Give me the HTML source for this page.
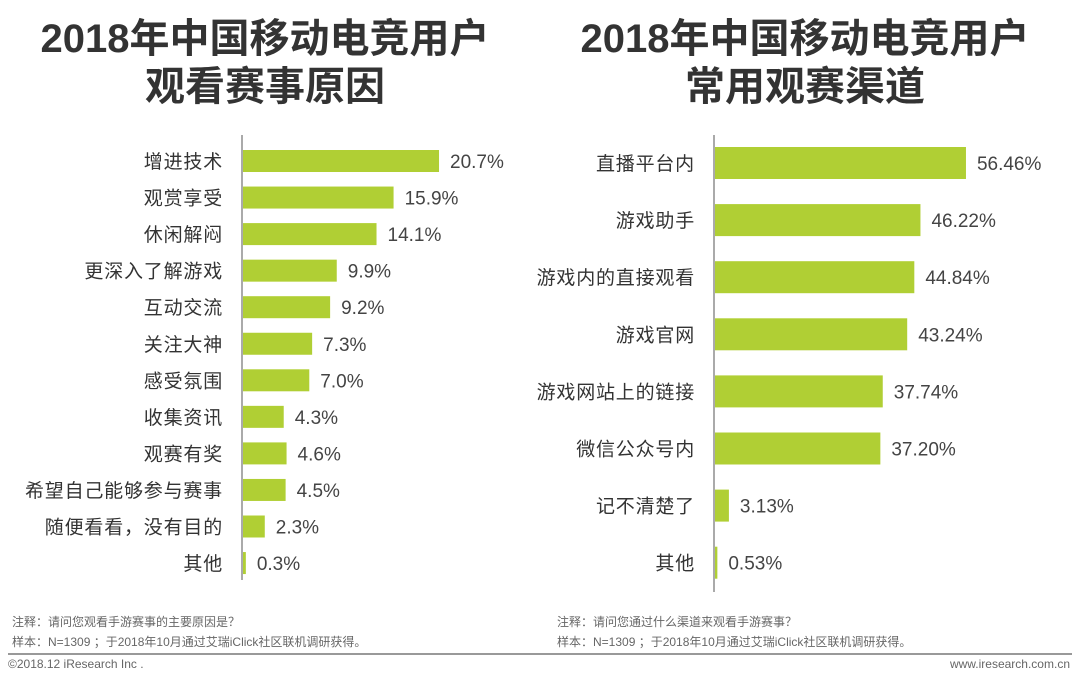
<!DOCTYPE html>
<html><head><meta charset="utf-8"><style>
body{margin:0;width:1080px;height:679px;background:#fff;overflow:hidden;font-family:"Liberation Sans","Noto Sans CJK SC",sans-serif;}
.t{position:absolute;font-weight:bold;font-size:40px;color:#333;text-align:center;line-height:48px;}
.n{position:absolute;font-size:12px;color:#666;}
</style></head><body>
<div class="t" style="left:0;width:530px;top:15px">2018年中国移动电竞用户<br>观看赛事原因</div>
<div class="t" style="left:540px;width:530px;top:15px">2018年中国移动电竞用户<br>常用观赛渠道</div>
<svg id="c" width="1080" height="679" style="position:absolute;left:0;top:0"></svg>
<div class="n" style="left:12px;top:613px">注释：请问您观看手游赛事的主要原因是？</div>
<div class="n" style="left:12px;top:633px">样本：N=1309 ；于2018年10月通过艾瑞iClick社区联机调研获得。</div>
<div class="n" style="left:557px;top:613px">注释：请问您通过什么渠道来观看手游赛事？</div>
<div class="n" style="left:557px;top:633px">样本：N=1309 ；于2018年10月通过艾瑞iClick社区联机调研获得。</div>
<div style="position:absolute;left:8px;top:653px;width:1064px;height:2px;background:#999"></div>
<div class="n" style="left:8px;top:657px">©2018.12 iResearch Inc .</div>
<div class="n" style="right:10px;top:657px">www.iresearch.com.cn</div>
<script>
const leftCats=["增进技术","观赏享受","休闲解闷","更深入了解游戏","互动交流","关注大神","感受氛围","收集资讯","观赛有奖","希望自己能够参与赛事","随便看看，没有目的","其他"];
const leftVals=[20.7,15.9,14.1,9.9,9.2,7.3,7.0,4.3,4.6,4.5,2.3,0.3];
const leftLabels=["20.7%","15.9%","14.1%","9.9%","9.2%","7.3%","7.0%","4.3%","4.6%","4.5%","2.3%","0.3%"];
const rightCats=["直播平台内","游戏助手","游戏内的直接观看","游戏官网","游戏网站上的链接","微信公众号内","记不清楚了","其他"];
const rightVals=[56.46,46.22,44.84,43.24,37.74,37.20,3.13,0.53];
const rightLabels=["56.46%","46.22%","44.84%","43.24%","37.74%","37.20%","3.13%","0.53%"];
const svg=document.getElementById('c');const NS='http://www.w3.org/2000/svg';
function mk(t,a,txt){const e=document.createElementNS(NS,t);for(const k in a)e.setAttribute(k,a[k]);if(txt!=null)e.textContent=txt;svg.appendChild(e);return e;}
function chart(cats,vals,labels,x0,scale,y0,step,bh,axTop,axBot,pre){
  const ax=mk('line',{x1:x0,x2:x0,y1:axTop,y2:axBot,stroke:'#555','stroke-width':1});
  
  
  cats.forEach((c,i)=>{
    const cy=y0+i*step,w=vals[i]*scale;
    const r=mk('rect',{x:x0+1,y:cy-bh/2,width:w,height:bh,fill:'#b0cf34'});
    
    
    const l=mk('text',{x:x0-19,y:cy+7,'text-anchor':'end','font-size':19,'letter-spacing':0.8,fill:'#333'},c);
    
    
    const v=mk('text',{x:x0+w+12,y:cy+7,'font-size':19,fill:'#444'},labels[i]);
    
    
  });
}
chart(leftCats,leftVals,leftLabels,242,9.47,161,36.55,22,135,580,'left');
chart(rightCats,rightVals,rightLabels,714,4.445,163,57.1,32,135,592,'right');
</script>
</body></html>
